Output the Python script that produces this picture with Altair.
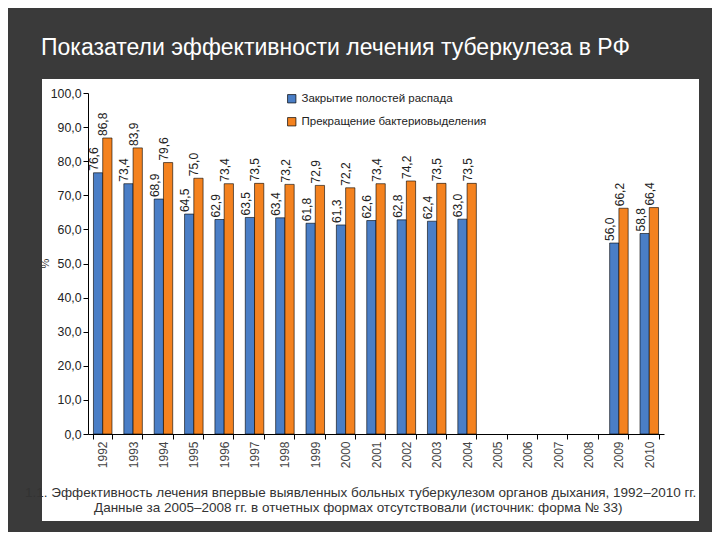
import altair as alt
import pandas as pd

years = [str(y) for y in range(1992, 2011)]
closure = [76.6, 73.4, 68.9, 64.5, 62.9, 63.5, 63.4, 61.8, 61.3, 62.6, 62.8, 62.4, 63.0,
           None, None, None, None, 56.0, 58.8]
abacillation = [86.8, 83.9, 79.6, 75.0, 73.4, 73.5, 73.2, 72.9, 72.2, 73.4, 74.2, 73.5, 73.5,
                None, None, None, None, 66.2, 66.4]
series_names = ["Закрытие полостей распада", "Прекращение бактериовыделения"]
colors = ["#4a7ec6", "#f4821f"]
y_ticks = list(range(0, 101, 10))

title_text = "Показатели эффективности лечения туберкулеза в РФ"
caption1 = "1.1. Эффективность лечения впервые выявленных больных туберкулезом органов дыхания, 1992–2010 гг."
caption2 = "Данные за 2005–2008 гг. в отчетных формах отсутствовали (источник: форма № 33)"

rows = []
for s, vals in zip(series_names, [closure, abacillation]):
    for yr, v in zip(years, vals):
        if v is not None:
            rows.append({"year": yr, "series": s, "value": v,
                         "label": f"{v:.1f}".replace(".", ",")})
df = pd.DataFrame(rows)

FONT = "Liberation Sans"

x_enc = alt.X(
    "year:N",
    scale=alt.Scale(domain=years, paddingInner=0.39, paddingOuter=0.18),
    axis=alt.Axis(title=None, labelAngle=270, labelAlign="right", labelBaseline="middle",
                  tickBand="extent", tickSize=5, labelPadding=2, labelFontSize=12,
                  labelColor="#444", domainColor="black", tickColor="black", grid=False,
                  zindex=2),
)
xo_enc = alt.XOffset("series:N", scale=alt.Scale(domain=series_names, paddingInner=0, paddingOuter=0))
y_enc = alt.Y(
    "value:Q",
    scale=alt.Scale(domain=[0, 100], nice=False),
    axis=alt.Axis(values=y_ticks, labelExpr="replace(format(datum.value, '.1f'), '.', ',')",
                  title="%", titleAngle=270, titleX=-38, titleY=170, titleFontSize=11,
                  titleFontWeight="normal", titleColor="#333",
                  tickSize=5, labelPadding=2, labelFontSize=12.3, labelColor="#222",
                  domainColor="black", tickColor="black", grid=False, zindex=2),
)

panel = alt.Chart(pd.DataFrame({"a": [0]})).mark_rect(fill="white").encode(
    x=alt.value(-46), x2=alt.value(611), y=alt.value(-14), y2=alt.value(428)
)

title = alt.Chart(pd.DataFrame({"a": [0]})).mark_text(
    align="left", baseline="alphabetic", fontSize=23, color="white", font=FONT
).encode(x=alt.value(-47), y=alt.value(-38), text=alt.value(title_text))

cap1 = alt.Chart(pd.DataFrame({"a": [0]})).mark_text(
    align="left", baseline="middle", fontSize=13.5, color="#333", font=FONT
).encode(x=alt.value(-63), y=alt.value(400), text=alt.value(caption1))

cap2 = alt.Chart(pd.DataFrame({"a": [0]})).mark_text(
    align="left", baseline="middle", fontSize=13.5, color="#333", font=FONT
).encode(x=alt.value(6), y=alt.value(415), text=alt.value(caption2))

bars = alt.Chart(df).mark_bar(stroke="black", strokeWidth=0.6).encode(
    x=x_enc,
    xOffset=xo_enc,
    y=y_enc,
    color=alt.Color(
        "series:N",
        scale=alt.Scale(domain=series_names, range=colors),
        legend=alt.Legend(title=None, orient="none", legendX=198, legendY=0,
                          symbolType="square", symbolSize=70, symbolStrokeColor="black",
                          symbolStrokeWidth=0.7, labelFontSize=11.5, labelColor="#222",
                          labelLimit=300, rowPadding=10, padding=0, zindex=2),
    ),
)

labels = alt.Chart(df).mark_text(
    angle=270, align="left", baseline="middle", dx=2, dy=-4, fontSize=12, color="#222", font=FONT
).encode(x=x_enc, xOffset=xo_enc, y=y_enc, text="label:N")

chart = (
    alt.layer(panel, title, cap1, cap2, bars, labels)
    .properties(
        width=576, height=341, autosize="none",
        padding={"left": 80, "top": 85, "right": 48, "bottom": 98},
        background="#3a3a3a",
    )
    .configure(font=FONT)
    .configure_view(strokeWidth=0)
)

chart.save("out.html", embed_options={"renderer": "svg", "actions": False})
